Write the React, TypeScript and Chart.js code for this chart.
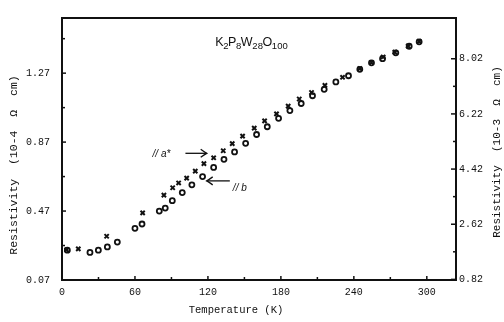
import React, { useEffect, useRef } from "react";
import { Chart, registerables } from "chart.js";

Chart.register(...registerables);

// // a* series (crosses)
const tempA = [3.8, 13.4, 36.7, 66.3, 83.8, 91.0, 95.9, 102.5, 109.6, 116.7, 124.7, 132.6, 140.0, 148.5, 158.1, 166.6, 176.4, 186.0, 195.1, 205.2, 216.2, 230.7, 244.9, 254.5, 264.1, 273.7, 284.7, 293.7];
const resA = [0.245, 0.251, 0.324, 0.459, 0.562, 0.605, 0.633, 0.661, 0.702, 0.745, 0.779, 0.820, 0.861, 0.905, 0.951, 0.993, 1.034, 1.079, 1.120, 1.158, 1.199, 1.246, 1.296, 1.332, 1.364, 1.392, 1.427, 1.454];

// // b series (circles)
const tempB = [4.4, 23.0, 29.9, 37.3, 45.5, 60.0, 65.8, 80.0, 84.9, 90.7, 98.9, 106.8, 115.6, 124.7, 133.2, 141.9, 151.0, 160.0, 168.8, 178.1, 187.4, 196.7, 206.0, 215.6, 225.2, 235.6, 244.9, 254.5, 263.6, 274.5, 285.5, 293.7];
const resB = [0.243, 0.230, 0.243, 0.262, 0.290, 0.370, 0.395, 0.470, 0.487, 0.530, 0.577, 0.622, 0.670, 0.723, 0.770, 0.813, 0.863, 0.914, 0.959, 1.008, 1.053, 1.094, 1.139, 1.176, 1.219, 1.255, 1.292, 1.330, 1.354, 1.388, 1.426, 1.452];

const xTicks = [0, 60, 120, 180, 240, 300];
const xMinor = [30, 90, 150, 210, 270];
const leftTicks = [0.07, 0.47, 0.87, 1.27];
const leftMinor = [0.27, 0.67, 1.07, 1.47];
const rightTicks = [0.82, 2.62, 4.42, 6.22, 8.02];
const rightMinor = [1.72, 3.52, 5.32, 7.12];

const MONO = "'Liberation Mono', 'DejaVu Sans Mono', monospace";
const INK = "#111";

const overlay = {
  id: "overlay",
  afterDraw(chart: any) {
    const { ctx, chartArea: a, scales } = chart;
    const sx = scales.x, sy = scales.y, sy2 = scales.y2;
    ctx.save();
    ctx.strokeStyle = INK;
    ctx.fillStyle = INK;
    // frame
    ctx.lineWidth = 2;
    ctx.strokeRect(a.left, a.top, a.right - a.left, a.bottom - a.top);
    // inner ticks
    ctx.lineWidth = 1.5;
    const tick = (x1: number, y1: number, x2: number, y2: number) => {
      ctx.beginPath(); ctx.moveTo(x1, y1); ctx.lineTo(x2, y2); ctx.stroke();
    };
    xTicks.forEach(v => { const p = sx.getPixelForValue(v); tick(p, a.bottom, p, a.bottom - 4); });
    xMinor.forEach(v => { const p = sx.getPixelForValue(v); tick(p, a.bottom, p, a.bottom - 3); });
    leftTicks.forEach(v => { const p = sy.getPixelForValue(v); tick(a.left, p, a.left + 4, p); });
    leftMinor.forEach(v => { const p = sy.getPixelForValue(v); tick(a.left, p, a.left + 3, p); });
    rightTicks.forEach(v => { const p = sy2.getPixelForValue(v); tick(a.right, p, a.right - 5, p); });
    rightMinor.forEach(v => { const p = sy2.getPixelForValue(v); tick(a.right, p, a.right - 3, p); });

    // formula title K2P8W28O100
    const parts: [string, boolean][] = [["K", false], ["2", true], ["P", false], ["8", true], ["W", false], ["28", true], ["O", false], ["100", true]];
    let tx = sx.getPixelForValue(126);
    const ty = sy.getPixelForValue(1.425);
    ctx.textBaseline = "alphabetic";
    ctx.textAlign = "left";
    parts.forEach(([t, sub]) => {
      ctx.font = sub ? "9.5px 'Liberation Sans', sans-serif" : "12.5px 'Liberation Sans', sans-serif";
      ctx.fillText(t, tx, ty + (sub ? 3 : 0));
      tx += ctx.measureText(t).width - (sub ? 0.5 : 0.3);
    });

    // annotations
    ctx.font = "italic 10px 'Liberation Sans', sans-serif";
    ctx.textBaseline = "middle";
    ctx.fillText("// a*", sx.getPixelForValue(74.5), sy.getPixelForValue(0.80));
    ctx.fillText("// b", sx.getPixelForValue(140.5), sy.getPixelForValue(0.60));
    const arrow = (x1: number, x2: number, y: number) => {
      ctx.lineWidth = 1.3;
      ctx.beginPath(); ctx.moveTo(x1, y); ctx.lineTo(x2, y); ctx.stroke();
      const d = x2 > x1 ? -1 : 1;
      ctx.beginPath();
      ctx.moveTo(x2 + d * 6, y - 4); ctx.quadraticCurveTo(x2 + d * 2, y - 1, x2, y);
      ctx.quadraticCurveTo(x2 + d * 2, y + 1, x2 + d * 6, y + 4);
      ctx.stroke();
    };
    arrow(sx.getPixelForValue(101.5), sx.getPixelForValue(119), sy.getPixelForValue(0.805));
    arrow(sx.getPixelForValue(138), sx.getPixelForValue(119), sy.getPixelForValue(0.645));

    // axis titles
    ctx.font = `10.5px ${MONO}`;
    ctx.textAlign = "center";
    ctx.textBaseline = "middle";
    ctx.fillText("Temperature (K)", 236, 310);
    ctx.save();
    ctx.translate(14, 165);
    ctx.rotate(-Math.PI / 2);
    ctx.font = `11.5px ${MONO}`;
    ctx.fillText("Resistivity  (10-4  \u03A9  cm)", 0, 0);
    ctx.restore();
    ctx.save();
    ctx.translate(497, 152);
    ctx.rotate(-Math.PI / 2);
    ctx.font = `11px ${MONO}`;
    ctx.fillText("Resistivity  (10-3  \u03A9  cm)", 0, 0);
    ctx.restore();
    ctx.restore();
  },
};

export default function App() {
  const ref = useRef<HTMLCanvasElement>(null);
  useEffect(() => {
    if (!ref.current) return;
    const tickFont = { family: MONO, size: 10 };
    const chart = new Chart(ref.current, {
      type: "scatter",
      data: {
        datasets: [
          {
            label: "// a*",
            data: tempA.map((t, i) => ({ x: t, y: resA[i] })),
            pointStyle: "crossRot",
            pointRadius: 3,
            borderWidth: 2,
            borderColor: INK,
            backgroundColor: INK,
            yAxisID: "y",
          },
          {
            label: "// b",
            data: tempB.map((t, i) => ({ x: t, y: resB[i] })),
            pointStyle: "circle",
            pointRadius: 2.5,
            borderWidth: 1.8,
            borderColor: INK,
            backgroundColor: "#fff",
            yAxisID: "y",
          },
        ],
      },
      options: {
        responsive: false,
        maintainAspectRatio: false,
        animation: false,
        layout: { padding: { top: 13, left: 0, right: 0, bottom: 0 } },
        plugins: { legend: { display: false }, tooltip: { enabled: false } },
        scales: {
          x: {
            type: "linear",
            min: 0,
            max: 324,
            grid: { display: false, drawTicks: false },
            border: { display: false },
            ticks: { font: tickFont, color: INK, padding: 6, maxRotation: 0, callback: (v: any) => String(v) },
            afterBuildTicks: (s: any) => { s.ticks = xTicks.map(v => ({ value: v })); },
            afterFit: (s: any) => { s.height = 42; },
          },
          y: {
            type: "linear",
            position: "left",
            min: 0.07,
            max: 1.59,
            grid: { display: false, drawTicks: false },
            border: { display: false },
            ticks: { font: tickFont, color: INK, padding: 12, callback: (v: any) => Number(v).toFixed(2) },
            afterBuildTicks: (s: any) => { s.ticks = leftTicks.map(v => ({ value: v })); },
            afterFit: (s: any) => { s.width = 62; },
          },
          y2: {
            type: "linear",
            position: "right",
            display: true,
            min: 0.80,
            max: 9.35,
            grid: { display: false, drawTicks: false },
            border: { display: false },
            ticks: { font: tickFont, color: INK, padding: 3, callback: (v: any) => Number(v).toFixed(2) },
            afterBuildTicks: (s: any) => { s.ticks = rightTicks.map(v => ({ value: v })); },
            afterFit: (s: any) => { s.width = 48; },
          },
        },
      },
      plugins: [overlay],
    } as any);
    return () => chart.destroy();
  }, []);
  return (
    <div style={{ position: "absolute", left: 0, top: 0, width: 504, height: 322, background: "#fff" }}>
      <canvas ref={ref} width={504} height={322} style={{ display: "block" }} />
    </div>
  );
}
